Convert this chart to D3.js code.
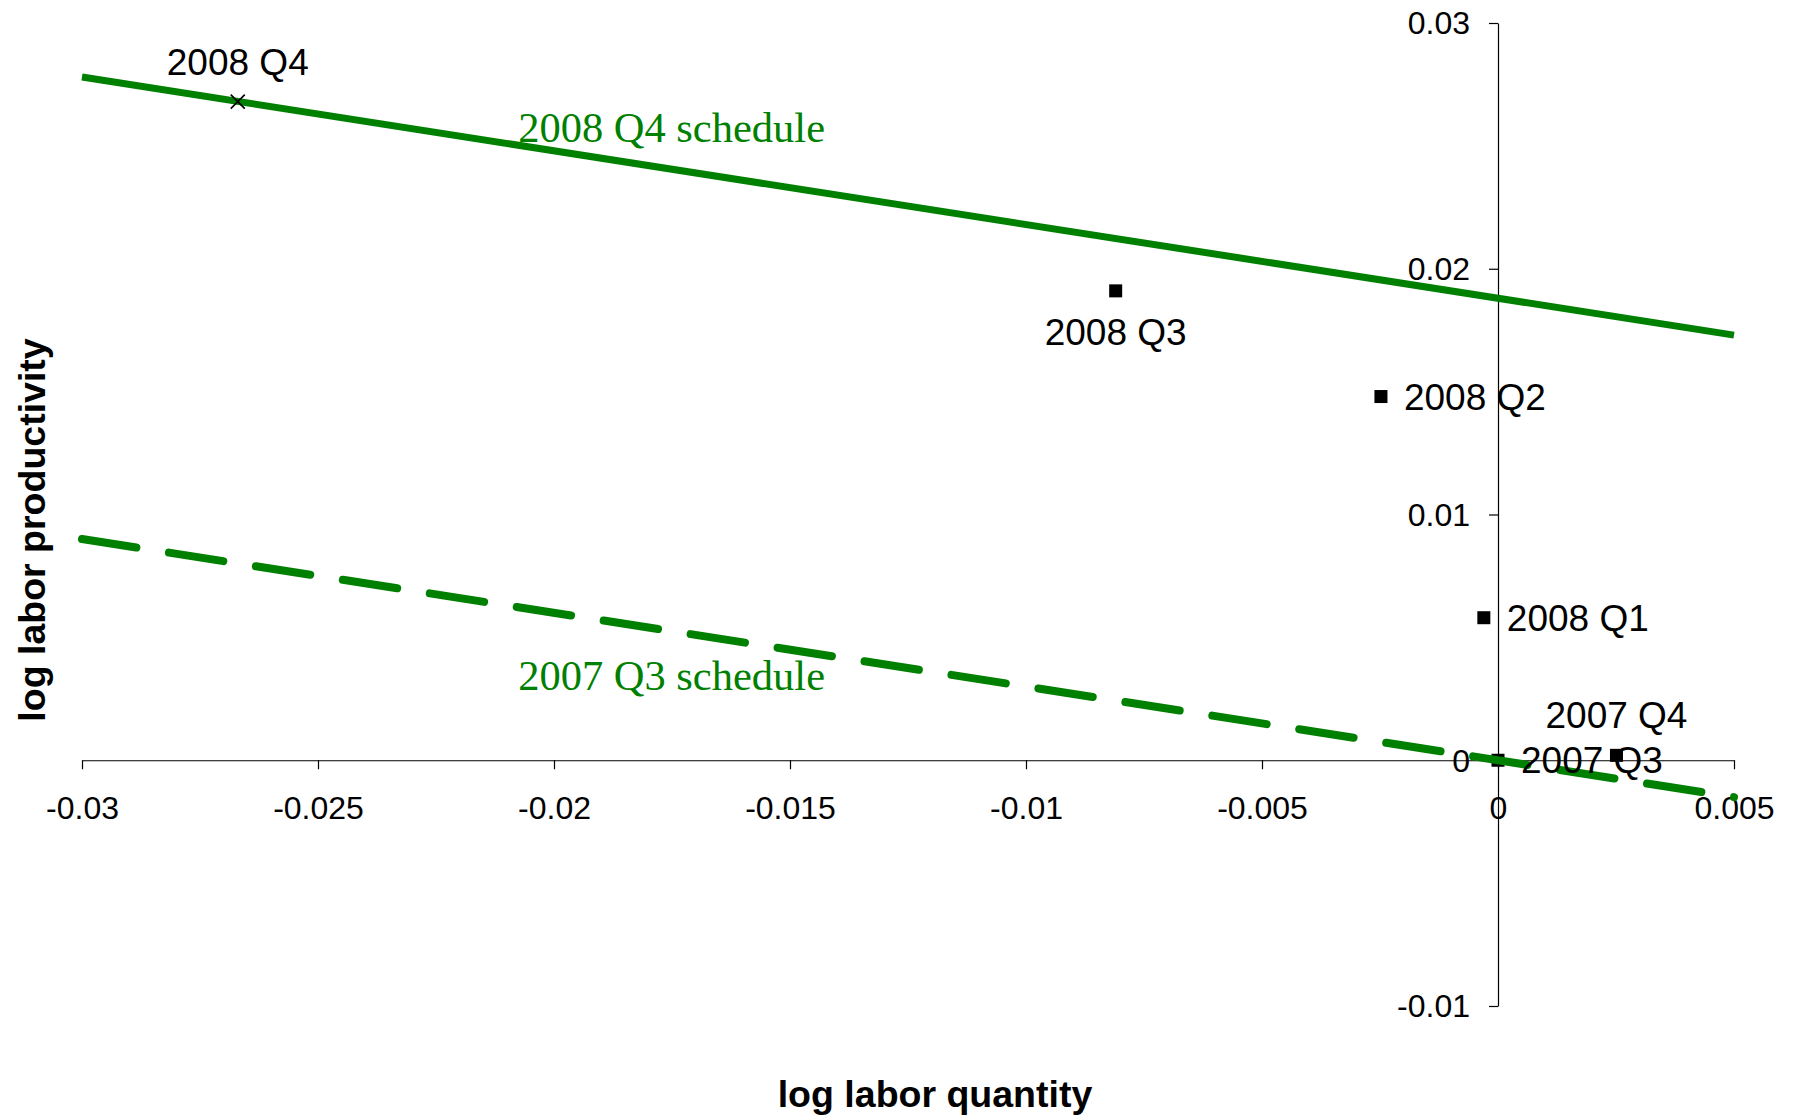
<!DOCTYPE html>
<html>
<head>
<meta charset="utf-8">
<script src="https://cdn.jsdelivr.net/npm/d3@7/dist/d3.min.js"></script>
<style>
  html, body { margin: 0; padding: 0; background: #fff; }
  svg { display: block; }
</style>
</head>
<body>
<svg id="chart" width="1795" height="1117"></svg>
<script>
// ---- data ----
const quarters      = ["2007 Q3", "2007 Q4", "2008 Q1", "2008 Q2", "2008 Q3", "2008 Q4"];
const laborQuantity = [0, 0.00251, -0.0003, -0.00248, -0.0081, -0.0267];
const laborProd     = [0, 0.0002, 0.0058, 0.0148, 0.0191, 0.0268];
const markerShape   = ["square", "square", "square", "square", "square", "cross"];
const labelPos      = ["right", "above", "right", "right", "below", "above"];

const scheduleNames = ["2008 Q4 schedule", "2007 Q3 schedule"];
const scheduleX     = [[-0.03, 0.005], [-0.03, 0.005]];
const scheduleY     = [[0.0278, 0.0173], [0.009, -0.0015]];
const scheduleDash  = [false, true];
const schedLabelX   = [-0.02076, -0.02076];
const schedLabelY   = [0.02515, 0.00286];

const xTickValues = [-0.03, -0.025, -0.02, -0.015, -0.01, -0.005, 0, 0.005];
const xTickLabels = ["-0.03", "-0.025", "-0.02", "-0.015", "-0.01", "-0.005", "0", "0.005"];
const yTickValues = [-0.01, 0, 0.01, 0.02, 0.03];
const yTickLabels = ["-0.01", "0", "0.01", "0.02", "0.03"];

const xTitle = "log labor quantity";
const yTitle = "log labor productivity";

// ---- layout ----
const svg = d3.select("#chart");
const GREEN = "#008000";
const SANS = "'Liberation Sans', Arial, Helvetica, sans-serif";
const SERIF = "'Liberation Serif', 'Times New Roman', serif";

const x = d3.scaleLinear().domain([-0.03, 0.005]).range([82, 1734]);
const y = d3.scaleLinear().domain([-0.01, 0.03]).range([1006, 23]);

// x axis crossing at y = 0
const xAxis = d3.axisBottom(x)
  .tickValues(xTickValues)
  .tickFormat((d, i) => xTickLabels[i])
  .tickSize(9).tickSizeOuter(0).tickPadding(27);
const gx = svg.append("g")
  .attr("transform", `translate(0,${y(0)})`)
  .call(xAxis);

// y axis crossing at x = 0
const yAxis = d3.axisLeft(y)
  .tickValues(yTickValues)
  .tickFormat((d, i) => yTickLabels[i])
  .tickSize(9).tickSizeOuter(0).tickPadding(19);
const gy = svg.append("g")
  .attr("transform", `translate(${x(0)},0)`)
  .call(yAxis);

[gx, gy].forEach(g => {
  g.selectAll("path.domain").attr("stroke", "#000").attr("stroke-width", 1.2);
  g.selectAll(".tick line").attr("stroke", "#000").attr("stroke-width", 1.2);
  g.selectAll(".tick text")
    .attr("fill", "#000")
    .style("font-family", SANS)
    .style("font-size", "32px");
});
gy.selectAll(".tick text").attr("dy", "0.34em");

// ---- square markers ----
const pts = quarters.map((q, i) => ({q, x: laborQuantity[i], y: laborProd[i], shape: markerShape[i], pos: labelPos[i]}));
const S = 13;
svg.append("g").selectAll("rect")
  .data(pts.filter(d => d.shape === "square"))
  .join("rect")
  .attr("x", d => x(d.x) - S / 2)
  .attr("y", d => y(d.y) - S / 2)
  .attr("width", S).attr("height", S)
  .attr("fill", "#000");

// ---- schedule lines ----
const line = d3.line().x(d => x(d[0])).y(d => y(d[1]));
scheduleNames.forEach((name, i) => {
  const data = scheduleX[i].map((v, j) => [v, scheduleY[i][j]]);
  svg.append("path")
    .datum(data)
    .attr("d", line)
    .attr("fill", "none")
    .attr("stroke", GREEN)
    .attr("stroke-width", scheduleDash[i] ? 8 : 7)
    .attr("stroke-linecap", scheduleDash[i] ? "round" : "butt")
    .attr("stroke-dasharray", scheduleDash[i] ? "55,33" : null);
});

// ---- cross marker ----
const C = 7;
pts.filter(d => d.shape === "cross").forEach(d => {
  const cx = x(d.x), cy = y(d.y);
  svg.append("path")
    .attr("d", `M${cx - C},${cy - C}L${cx + C},${cy + C}M${cx - C},${cy + C}L${cx + C},${cy - C}`)
    .attr("stroke", "#000").attr("stroke-width", 1.6).attr("fill", "none");
});

// ---- data labels ----
svg.append("g").selectAll("text")
  .data(pts)
  .join("text")
  .attr("x", d => d.pos === "right" ? x(d.x) + 23 : x(d.x))
  .attr("y", d => d.pos === "above" ? y(d.y) - 27 : d.pos === "below" ? y(d.y) + 54 : y(d.y) + 13)
  .attr("text-anchor", d => d.pos === "right" ? "start" : "middle")
  .style("font-family", SANS)
  .style("font-size", "37px")
  .attr("fill", "#000")
  .text(d => d.q);

// ---- schedule labels ----
scheduleNames.forEach((name, i) => {
  svg.append("text")
    .attr("x", x(schedLabelX[i]))
    .attr("y", y(schedLabelY[i]))
    .style("font-family", SERIF)
    .style("font-size", "42.5px")
    .attr("fill", GREEN)
    .text(name);
});

// ---- axis titles ----
svg.append("text")
  .attr("x", 935).attr("y", 1107)
  .attr("text-anchor", "middle")
  .style("font-family", SANS).style("font-size", "37.5px").style("font-weight", "bold")
  .text(xTitle);

svg.append("text")
  .attr("transform", "translate(45,530) rotate(-90)")
  .attr("text-anchor", "middle")
  .style("font-family", SANS).style("font-size", "37.5px").style("font-weight", "bold")
  .text(yTitle);
</script>
</body>
</html>
